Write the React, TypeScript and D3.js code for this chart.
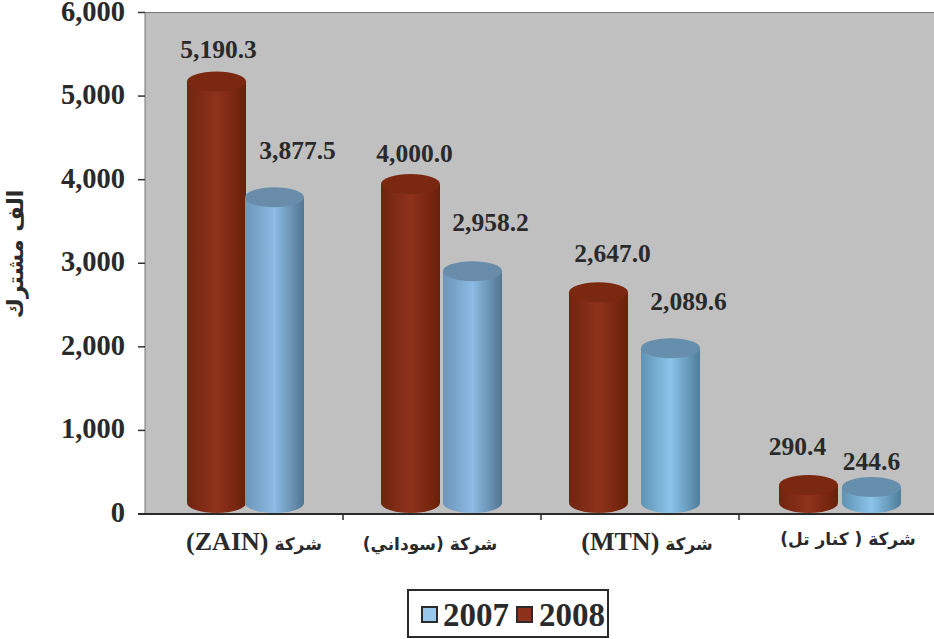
import React from "react";
import * as d3 from "d3";

const companyArabic = ["شركة", "شركة", "شركة", "شركة"];
const companyNames = ["(ZAIN)", "(سوداني)", "(MTN)", "( كنار تل)"];
const labels2008 = ["5,190.3", "4,000.0", "2,647.0", "290.4"];
const labels2007 = ["3,877.5", "2,958.2", "2,089.6", "244.6"];
// Cylinder heights
const values2008 = [5175, 3947, 2653, 346];
const values2007 = [3789, 2905, 1984, 322];
const yTicks = [0, 1000, 2000, 3000, 4000, 5000, 6000];
const years = ["2007", "2008"];

const W = 934, H = 639;
const plotL = 145, plotR = 937, plotT = 12.5, plotB = 514;
const BW = 59, RY = 10, BASE = 503;
const shift2008 = [-27.5, -31.5, -41.5, -29.5];
const shift2007 = [30.5, 30.5, 30.5, 33.5];
const lab2008 = [[2, -23], [4, -22], [14, -30], [-11, -30]];
const lab2007 = [[23, -38], [18, -40], [18, -38], [0, -17]];
const catX = [254, 430, 647, 848];
const catY = [550, 550, 550, 545];
const blueFill = ["blue", "blue", "blue2", "blue2"];
const blueTop = ["#6a8cab", "#6a8cab", "#668fae", "#668fae"];
const serif = "'Liberation Serif', serif";
const arabic = "'DejaVu Sans', sans-serif";
const ink = "#2a2a2c";

const x = d3.scaleBand<number>().domain([0, 1, 2, 3]).range([plotL, plotR]);
const y = d3.scaleLinear().domain([0, 6000]).range([plotB, plotT]);

function Cyl({ cx, value, grad, top }: { cx: number; value: number; grad: string; top: string }) {
  const t = y(value);
  const l = cx - BW / 2, r = cx + BW / 2;
  const d = `M${l},${t}L${l},${BASE}A${BW / 2},${RY} 0 0 0 ${r},${BASE}L${r},${t}Z`;
  return (
    <g>
      <path d={d} fill={`url(#${grad})`} />
      <ellipse cx={cx} cy={t} rx={BW / 2} ry={RY} fill={top} />
    </g>
  );
}

function Grad({ id, edgeL, mid, edgeR }: { id: string; edgeL: string; mid: string; edgeR: string }) {
  return (
    <linearGradient id={id} x1="0" x2="1" y1="0" y2="0">
      <stop offset="0" stopColor={edgeL} />
      <stop offset="0.5" stopColor={mid} />
      <stop offset="1" stopColor={edgeR} />
    </linearGradient>
  );
}

export default function App() {
  return (
    <svg width={W} height={H} viewBox={`0 0 ${W} ${H}`} style={{ position: "absolute", left: 0, top: 0, background: "#fff" }}>
      <defs>
        <Grad id="red" edgeL="#702510" mid="#8f321b" edgeR="#6a2009" />
        <Grad id="blue" edgeL="#6d95ba" mid="#8cbbe3" edgeR="#527592" />
        <Grad id="blue2" edgeL="#5f93b4" mid="#8bc4ea" edgeR="#4f7d9a" />
      </defs>
      <rect x={plotL} y={plotT} width={W - plotL} height={plotB - plotT} fill="#c0c0c0" />
      <line x1={plotL} x2={W} y1={plotT} y2={plotT} stroke="#77777a" strokeWidth={1} />
      <line x1={plotL} x2={plotL} y1={plotT} y2={plotB} stroke="#77777a" strokeWidth={1} />
      {yTicks.map((v) => (
        <g key={v}>
          <line x1={138} x2={plotL} y1={y(v)} y2={y(v)} stroke="#333" strokeWidth={1.5} />
          <text x={125} y={y(v) + 8} textAnchor="end" fontFamily={serif} fontWeight={700} fontSize={28.5} fill={ink}>
            {d3.format(",")(v)}
          </text>
        </g>
      ))}
      {values2008.map((v, i) => {
        const b = x(i)! + x.bandwidth() / 2;
        return (
          <g key={i}>
            <Cyl cx={b + shift2008[i]} value={v} grad="red" top="#7a280f" />
            <Cyl cx={b + shift2007[i]} value={values2007[i]} grad={blueFill[i]} top={blueTop[i]} />
            <text x={b + shift2008[i] + lab2008[i][0]} y={y(v) + lab2008[i][1]} textAnchor="middle" fontFamily={serif} fontWeight={700} fontSize={25.5} fill={ink}>{labels2008[i]}</text>
            <text x={b + shift2007[i] + lab2007[i][0]} y={y(values2007[i]) + lab2007[i][1]} textAnchor="middle" fontFamily={serif} fontWeight={700} fontSize={25.5} fill={ink}>{labels2007[i]}</text>
          </g>
        );
      })}
      <line x1={138} x2={W} y1={plotB} y2={plotB} stroke="#2b2b2b" strokeWidth={2} />
      {[1, 2, 3].map((i) => (
        <line key={i} x1={x(i)!} x2={x(i)!} y1={plotB} y2={plotB + 6} stroke="#2b2b2b" strokeWidth={1.5} />
      ))}
      {companyNames.map((n, i) => (
        <text key={i} x={catX[i]} y={catY[i]} textAnchor="middle" direction="rtl" fontFamily={arabic} fontWeight={700} fontSize={17} fill={ink}>
          <tspan>{companyArabic[i]} </tspan>
          <tspan fontFamily={/[A-Z]/.test(n) ? serif : arabic} fontSize={/[A-Z]/.test(n) ? 26 : 17}>{n}</tspan>
        </text>
      ))}
      <text transform="translate(23,254) rotate(-90)" textAnchor="middle" direction="rtl" fontFamily={arabic} fontWeight={700} fontSize={22} fill={ink}>الف مشترك</text>
      <rect x={408} y={590} width={200} height={47} fill="#fff" stroke="#2b2b2b" strokeWidth={2} />
      <rect x={422} y={607} width={15} height={15} fill="#97c8ec" stroke="#2b2b2b" strokeWidth={2} />
      <text x={443} y={626} fontFamily={serif} fontWeight={700} fontSize={33} fill={ink}>{years[0]}</text>
      <rect x={517} y={607} width={15} height={15} fill="#8f321b" stroke="#2b2b2b" strokeWidth={2} />
      <text x={539} y={626} fontFamily={serif} fontWeight={700} fontSize={33} fill={ink}>{years[1]}</text>
    </svg>
  );
}
